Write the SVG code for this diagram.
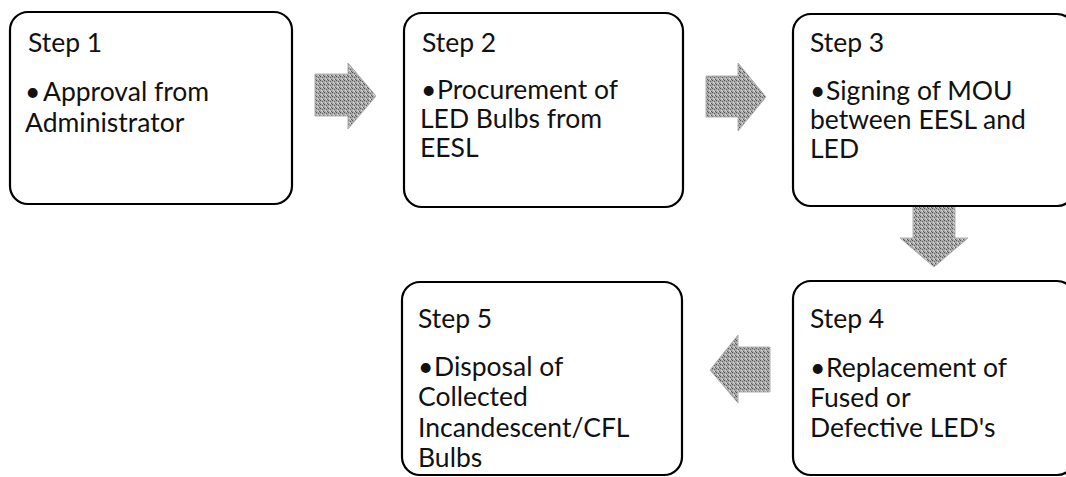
<svg xmlns="http://www.w3.org/2000/svg" width="1066" height="477" viewBox="0 0 1066 477">
<style>
.box{fill:#ffffff;stroke:#000000;stroke-width:2.2}
.t{font-family:Lato,"Open Sans",sans-serif;font-size:26.5px;fill:#111111}
.arr{fill:url(#dots);stroke:#b0b0b0;stroke-width:1}
</style>
<defs>
<pattern id="dots" width="4" height="4" patternUnits="userSpaceOnUse">
<rect width="4" height="4" fill="#a8a8a8"/>
<rect x="0" y="0" width="1" height="1" fill="#555555"/>
<rect x="2" y="1" width="1" height="1" fill="#666666"/>
<rect x="1" y="2" width="1" height="1" fill="#d8d8d8"/>
<rect x="3" y="3" width="1" height="1" fill="#5a5a5a"/>
<rect x="2" y="3" width="1" height="1" fill="#dddddd"/>
</pattern>
</defs>
<rect width="1066" height="477" fill="#ffffff"/>
<g id="connectors">
<path class="arr" d="M315,74 H348 V63 L376,96 L348,129 V116 H315 Z"/>
<path class="arr" d="M706,76 H738 V63 L766,97 L738,131 V117 H706 Z"/>
<path class="arr" d="M913,206 H955 V238 H968 L934,267 L900,238 H913 Z"/>
<path class="arr" d="M770,347 V392 H738 V403 L710,370 L738,335 V347 Z"/>
</g>
<g id="step1">
<rect class="box" x="10" y="12" width="282" height="192" rx="18"/>
<text class="t" x="28" y="52">Step 1</text>
<text class="t" y="101"><tspan x="25">•</tspan><tspan x="43">Approval from</tspan></text>
<text class="t" x="25" y="132">Administrator</text>
</g>
<g id="step2">
<rect class="box" x="404" y="13" width="279" height="194" rx="18"/>
<text class="t" x="422" y="52">Step 2</text>
<text class="t" y="99"><tspan x="421">•</tspan><tspan x="437">Procurement of</tspan></text>
<text class="t" x="420" y="128">LED Bulbs from</text>
<text class="t" x="420" y="157">EESL</text>
</g>
<g id="step3">
<rect class="box" x="793" y="14" width="282" height="192" rx="18"/>
<text class="t" x="810" y="52">Step 3</text>
<text class="t" y="100"><tspan x="810">•</tspan><tspan x="826">Signing of MOU</tspan></text>
<text class="t" x="810" y="129">between EESL and</text>
<text class="t" x="810" y="158">LED</text>
</g>
<g id="step4">
<rect class="box" x="793" y="281" width="282" height="194" rx="18"/>
<text class="t" x="810" y="328">Step 4</text>
<text class="t" y="377"><tspan x="810">•</tspan><tspan x="826">Replacement of</tspan></text>
<text class="t" x="810" y="407">Fused or</text>
<text class="t" x="810" y="437">Defective LED's</text>
</g>
<g id="step5">
<rect class="box" x="402" y="282" width="280" height="193" rx="18"/>
<text class="t" x="418" y="328">Step 5</text>
<text class="t" y="376"><tspan x="418">•</tspan><tspan x="434">Disposal of</tspan></text>
<text class="t" x="418" y="406">Collected</text>
<text class="t" x="418" y="437">Incandescent/CFL</text>
<text class="t" x="418" y="467">Bulbs</text>
</g>
</svg>
